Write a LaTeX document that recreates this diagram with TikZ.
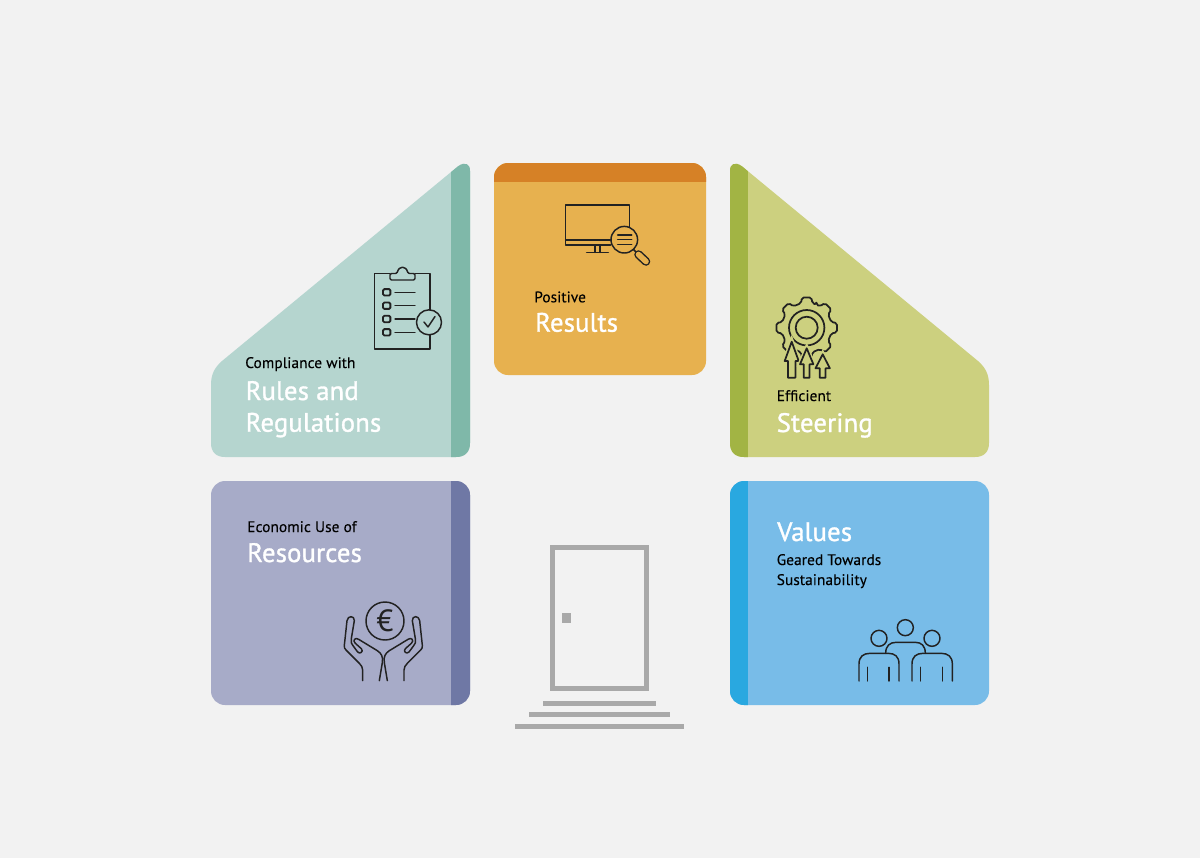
\documentclass[tikz,border=0pt]{standalone}
\usepackage{fontspec}
\setmainfont{PT Sans}
\newfontfamily\smallfnt[LetterSpace=0.5,FakeBold=0.12]{PT Sans}
\newfontfamily\bigfnt[LetterSpace=0.6,FakeBold=1.2]{PT Sans}
\definecolor{bgc}{HTML}{F2F2F2}
\definecolor{tealc}{HTML}{B5D5CF}
\definecolor{tealb}{HTML}{7FB8A9}
\definecolor{orac}{HTML}{E7B14F}
\definecolor{orab}{HTML}{D68126}
\definecolor{olic}{HTML}{CCD07F}
\definecolor{olib}{HTML}{A2B444}
\definecolor{purc}{HTML}{A7ABC8}
\definecolor{purb}{HTML}{6F78A5}
\definecolor{bluc}{HTML}{78BCE8}
\definecolor{blub}{HTML}{29A8E0}
\definecolor{doorc}{HTML}{A9A9A9}
\definecolor{inkc}{HTML}{222222}
\tikzset{
  lead/.style={anchor=base west,inner sep=0pt,text=black,font=\smallfnt\fontsize{11.5}{13}\selectfont},
  head/.style={anchor=base west,inner sep=0pt,text=white,font=\bigfnt\fontsize{20}{24}\selectfont},
  icon/.style={draw=inkc,line width=1.1pt,line join=round,line cap=round},
  doorpart/.style={fill=doorc,draw=none},
  zoomed/.style={shift={(#1)},scale=1/3}
}
\begin{document}
\begin{tikzpicture}[x=0.75pt,y=-0.75pt]
\useasboundingbox (0,0) rectangle (1200,858);
\fill[bgc] (0,0) rectangle (1200,858);

% --- teal pentagon
\def\tealshape{(470,171) .. controls (470,163.5) and (465,161.5) .. (458,166.3) -- (222,361) .. controls (214,368) and (211,375) .. (211,385) -- (211,443) .. controls (211,452) and (216,457) .. (225,457) -- (456,457) .. controls (465,457) and (470,452) .. (470,443) -- cycle}
\fill[tealc] \tealshape;
\begin{scope}\clip \tealshape; \fill[tealb] (451,150) rectangle (475,460); \end{scope}

% --- olive pentagon
\def\olishape{(730,171) .. controls (730,163.5) and (735,161.5) .. (742,166.3) -- (978,361) .. controls (986,368) and (989,375) .. (989,385) -- (989,443) .. controls (989,452) and (984,457) .. (975,457) -- (744,457) .. controls (735,457) and (730,452) .. (730,443) -- cycle}
\fill[olic] \olishape;
\begin{scope}\clip \olishape; \fill[olib] (725,150) rectangle (748,460); \end{scope}

% --- orange square
\def\orashape{[rounded corners=10.5pt] (494,163) rectangle (706,375)}
\fill[orac] \orashape;
\begin{scope}\clip \orashape; \fill[orab] (490,160) rectangle (710,182); \end{scope}

% --- purple square
\def\purshape{[rounded corners=10.5pt] (211,481) rectangle (470,705)}
\fill[purc] \purshape;
\begin{scope}\clip \purshape; \fill[purb] (451,478) rectangle (475,710); \end{scope}

% --- blue square
\def\blushape{[rounded corners=10.5pt] (730,481) rectangle (989,705)}
\fill[bluc] \blushape;
\begin{scope}\clip \blushape; \fill[blub] (725,478) rectangle (748,710); \end{scope}

% --- door
\draw[doorc,line width=3.75pt] (552.5,547.5) rectangle (646.5,688.5);
\fill[doorpart] (561.7,613) rectangle (571.3,623);
\fill[doorpart] (543,700.7) rectangle (656,705.7);
\fill[doorpart] (529,712.3) rectangle (670,717.3);
\fill[doorpart] (514.7,724) rectangle (684.3,729);

% --- clipboard icon
\draw[icon] (430,310) -- (430,273.5) -- (415,273.5) (390,273.5) -- (374.5,273.5) -- (374.5,349) -- (430,349) -- (430,335);
\draw[icon,rounded corners=1pt] (390,273.5) -- (390,280) -- (415,280) -- (415,273.5) -- (408,273.5) .. controls (406,265.5) and (399,265.5) .. (397,273.5) -- cycle;
\foreach \yy in {292.3,305.7,319,332.3}{
  \draw[icon,line width=1.4pt,rounded corners=1pt] (383,\yy-3.2) rectangle (390.4,\yy+3.2);
  \draw[icon,line width=0.85pt] (395,\yy) -- (415,\yy);
}
\draw[icon] (429,322.3) circle[radius=12.5];
\draw[icon] (424,322) -- (428,327) -- (435,316.5);

% --- monitor icon
\draw[icon] (629.3,226.5) -- (629.3,205) -- (565.7,205) -- (565.7,245) -- (610.5,245);
\draw[icon] (565.7,240) -- (610.5,240);
\draw[icon] (595,245) -- (595,252.3) (600,245) -- (600,252.3) (586.7,252.3) -- (608.3,252.3);
\draw[icon] (624.3,239.7) circle[radius=13.3];
\draw[icon] (617.7,235) -- (631.7,235) (617.7,239.7) -- (631.7,239.7) (617.7,244.3) -- (631.7,244.3);
\draw[icon] (633.5,249.5) -- (637,253);
\draw[inkc,line width=6.4pt,line cap=round] (638.5,254.5) -- (646,261.5);
\draw[orac,line width=4.2pt,line cap=round] (638.5,254.5) -- (646,261.5);

% --- gear and arrows icon
\begin{scope}[shift={(806.7,327.7)}]
  \draw[icon,line width=1.3pt,rounded corners=1.5pt] (-22.5-45:25)
    \foreach \a in {-45,0,...,270}{ -- (\a-13:25) -- (\a-9:30.7) -- (\a+9:30.7) -- (\a+13:25) -- (\a+22.5:25) } -- cycle;
  \draw[icon,line width=1.3pt] (0,0) circle[radius=11] (0,0) circle[radius=17.7];
\end{scope}
\foreach \tipx/\tipy/\heady/\hw/\sw in {791.7/341.7/361/7/3.7,806.7/348.3/364.3/6.7/2.9,822.7/354.3/368.3/7.2/2.9}{
  \draw[icon,line width=1.3pt,fill=olic,preaction={draw=olic,line width=3.5pt}]
    (\tipx,\tipy) -- (\tipx+\hw,\heady) -- (\tipx+\sw,\heady) -- (\tipx+\sw,377.7) -- (\tipx-\sw,377.7) -- (\tipx-\sw,\heady) -- (\tipx-\hw,\heady) -- cycle;
}

% --- euro in hands icon
\draw[icon] (385,621) circle[radius=19];
\node[inner sep=0pt,text=inkc] (euro) at (385,621) {\fontsize{23}{26}\selectfont €};
\foreach \sx/\sgn in {320/1,446.67/-1}{
  \begin{scope}[shift={(\sx,590)},xscale=\sgn/3,yscale=1/3]
    \draw[icon] (128,272) -- (128,240) .. controls (128,232) and (124,226) .. (118,220) -- (78,180) .. controls (74,176) and (72,172) .. (73,166) -- (81,92) .. controls (83,76) and (104,76) .. (103,92) -- (94,146) .. controls (92,156) and (94,162) .. (99,167) -- (113,186) .. controls (120,194) and (132,184) .. (124,176) -- (106,160) .. controls (96,152) and (106,140) .. (116,148) -- (172,182) .. controls (184,190) and (190,200) .. (187,218) -- (178,272);
  \end{scope}
}

% --- people icon
\begin{scope}[zoomed={840,605}]
  \draw[icon] (196,68) circle[radius=24] (117,100) circle[radius=24] (276,100) circle[radius=24];
  \draw[icon] (57,228) -- (57,177) .. controls (57,155) and (70,145) .. (90,145) -- (145,145) .. controls (165,145) and (177,155) .. (177,177) -- (177,228);
  \draw[icon] (216,228) -- (216,177) .. controls (216,155) and (229,145) .. (249,145) -- (304,145) .. controls (324,145) and (337,155) .. (337,177) -- (337,228);
  \draw[icon] (83,187) -- (83,228) (147,187) -- (147,228) (242,187) -- (242,228) (307,187) -- (307,228);
  \draw[icon] (137,145) .. controls (137,122) and (150,112) .. (168,112) -- (226,112) .. controls (244,112) and (256,122) .. (256,145);
\end{scope}

% --- texts
\node[lead] (t1a) at (245,368) {Compliance with};
\node[head] (t1b) at (245.5,400) {Rules and};
\node[head] (t1c) at (245.5,431.7) {Regulations};
\node[lead] (t2a) at (534,302.3) {Positive};
\node[head] (t2b) at (535,331.7) {Results};
\node[lead] (t3a) at (776.5,401) {Efficient};
\node[head] (t3b) at (776.5,432) {Steering};
\node[lead] (t4a) at (247,532) {Economic Use of};
\node[head] (t4b) at (247,562) {Resources};
\node[head] (t5a) at (777,541) {Values};
\node[lead] (t5b) at (776.5,565) {Geared Towards};
\node[lead] (t5c) at (776.5,585) {Sustainability};
\end{tikzpicture}
\end{document}
